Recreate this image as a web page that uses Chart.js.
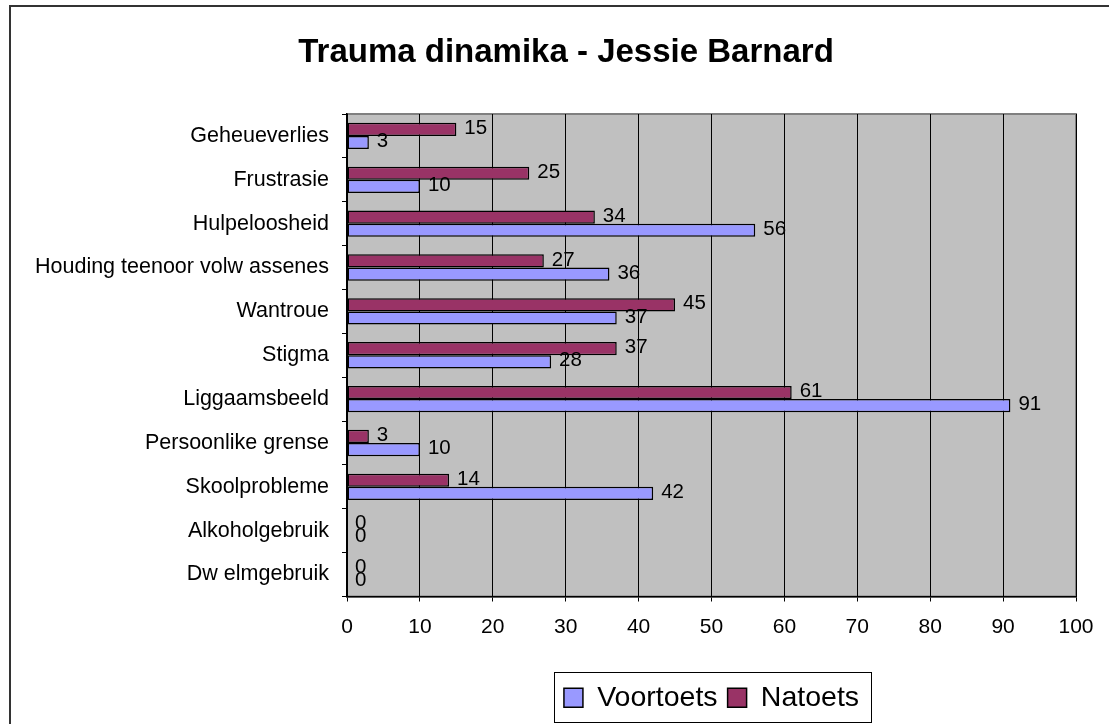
<!DOCTYPE html>
<html>
<head>
<meta charset="utf-8">
<script src="https://cdn.jsdelivr.net/npm/chart.js@4"></script>
<style>
  html, body { margin: 0; padding: 0; background: #fff; }
  canvas { display: block; }
</style>
</head>
<body>
<canvas id="c" width="1109" height="724"></canvas>
<script>
const categories = [
  "Geheueverlies", "Frustrasie", "Hulpeloosheid", "Houding teenoor volw assenes",
  "Wantroue", "Stigma", "Liggaamsbeeld", "Persoonlike grense",
  "Skoolprobleme", "Alkoholgebruik", "Dw elmgebruik"
];
const voortoets = [3, 10, 56, 36, 37, 28, 91, 10, 42, 0, 0];
const natoets   = [15, 25, 34, 27, 45, 37, 61, 3, 14, 0, 0];
const xTicks = [0, 10, 20, 30, 40, 50, 60, 70, 80, 90, 100];
const titleText = "Trauma dinamika - Jessie Barnard";

const FONT = "'Liberation Sans', Arial, sans-serif";
Chart.defaults.font.family = FONT;
Chart.defaults.color = "#000";

const PAD_LEFT = 20;

const framePlugin = {
  id: "frame",
  afterLayout(chart) {
    // centre the title box the way the original sheet did (shifted right)
    if (chart.titleBlock) chart.titleBlock.left = 56;
  },
  beforeDraw(chart) {
    const ctx = chart.ctx, a = chart.chartArea;
    ctx.save();
    ctx.fillStyle = "#C0C0C0";
    ctx.fillRect(a.left, a.top, a.right - a.left, a.bottom - a.top);
    ctx.strokeStyle = "#808080";
    ctx.lineWidth = 2;
    ctx.strokeRect(a.left, a.top, a.right - a.left, a.bottom - a.top);
    ctx.strokeStyle = "#333";
    ctx.lineWidth = 2;
    ctx.beginPath();
    ctx.moveTo(10, chart.height + 2);
    ctx.lineTo(10, 6);
    ctx.lineTo(chart.width + 2, 6);
    ctx.stroke();
    ctx.restore();
  },
  afterDraw(chart) {
    const lg = chart.legend;
    if (!lg || !lg.legendHitBoxes || !lg.legendHitBoxes.length) return;
    const hb = lg.legendHitBoxes;
    let l = Infinity, r = -Infinity, cy = 0;
    hb.forEach(h => { l = Math.min(l, h.left); r = Math.max(r, h.left + h.width); cy = h.top + h.height / 2; });
    const ctx = chart.ctx;
    ctx.save();
    ctx.strokeStyle = "#000";
    ctx.lineWidth = 1;
    ctx.strokeRect(Math.round(l - 10) + 0.5, Math.round(cy - 26) + 0.5, Math.round(r - l + 22), 50);
    ctx.restore();
  }
};

const labelPlugin = {
  id: "valueLabels",
  afterDatasetsDraw(chart) {
    const ctx = chart.ctx;
    ctx.save();
    ctx.font = "20.5px " + FONT;
    ctx.fillStyle = "#000";
    ctx.textAlign = "left";
    ctx.textBaseline = "middle";
    chart.data.datasets.forEach((ds, di) => {
      const meta = chart.getDatasetMeta(di);
      meta.data.forEach((el, i) => {
        ctx.fillText(String(ds.data[i]), el.x + 8, el.y - 1);
      });
    });
    ctx.restore();
  }
};

new Chart(document.getElementById("c"), {
  type: "bar",
  data: {
    labels: categories,
    datasets: [
      { label: "Natoets", data: natoets, backgroundColor: "#993366", borderColor: "#000", borderWidth: 1.5, borderSkipped: false,
        categoryPercentage: 0.6, barPercentage: 1.0 },
      { label: "Voortoets", data: voortoets, backgroundColor: "#9999FF", borderColor: "#000", borderWidth: 1.5, borderSkipped: false,
        categoryPercentage: 0.6, barPercentage: 1.0 }
    ]
  },
  options: {
    indexAxis: "y",
    responsive: false,
    animation: false,
    layout: { padding: { left: PAD_LEFT, right: 33, top: 0, bottom: 2 } },
    plugins: {
      title: {
        display: true,
        text: titleText,
        font: { size: 33, weight: "bold", family: FONT },
        color: "#000",
        padding: { top: 32.7, bottom: 41.7 }
      },
      legend: {
        position: "bottom",
        fullSize: false,
        labels: {
          font: { size: 28.5, family: FONT },
          color: "#000",
          boxWidth: 19,
          boxHeight: 19,
          padding: 10,
          sort: (a, b) => b.datasetIndex - a.datasetIndex
        }
      },
      tooltip: { enabled: false }
    },
    scales: {
      x: {
        min: 0, max: 100,
        afterBuildTicks(scale) { scale.ticks = xTicks.map(v => ({ value: v })); },
        ticks: { font: { size: 21, family: FONT }, color: "#000", padding: 13, maxRotation: 0, autoSkip: false },
        grid: { color: "#000", lineWidth: 1, tickLength: 5, drawTicks: true },
        border: { display: true, color: "#000", width: 1.5 },
        afterFit(scale) { scale.height = 77; scale.paddingLeft = 0; scale.paddingRight = 0; }
      },
      y: {
        ticks: { font: { size: 21.5, family: FONT }, color: "#000", padding: 13, autoSkip: false },
        grid: { drawOnChartArea: false, drawTicks: true, tickLength: 5, color: "#000", offset: true },
        border: { display: true, color: "#000", width: 1.5 },
        afterFit(scale) { scale.width = 347 - PAD_LEFT; scale.paddingTop = 0; scale.paddingBottom = 0; }
      }
    }
  },
  plugins: [framePlugin, labelPlugin]
});
</script>
</body>
</html>
